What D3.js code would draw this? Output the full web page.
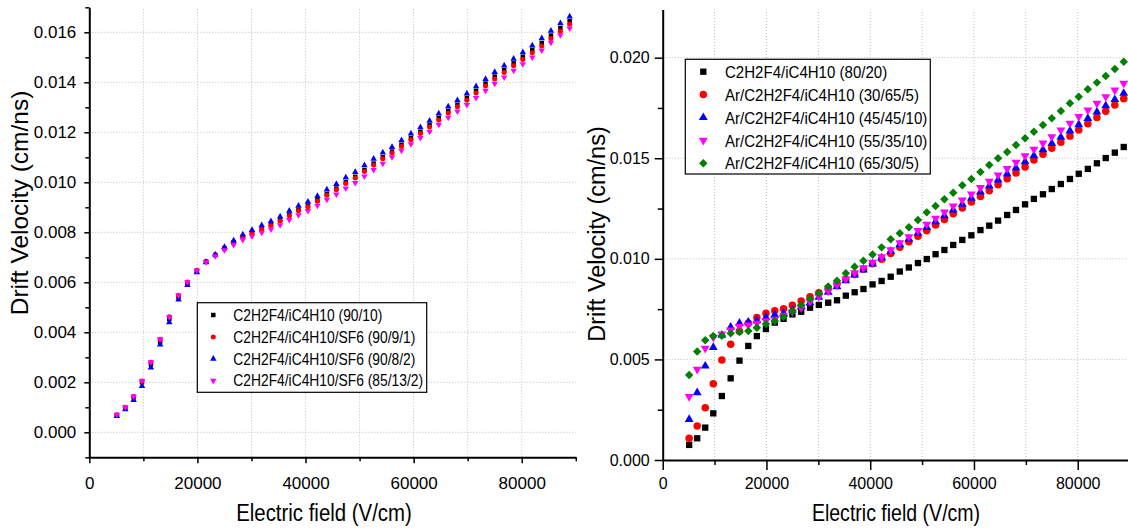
<!DOCTYPE html>
<html>
<head>
<meta charset="utf-8">
<script src="https://cdn.jsdelivr.net/npm/d3@7"></script>
<style>
    body { margin: 0; background: #fff; }
    svg { display: block; font-family: "Liberation Sans", Arial, sans-serif; }
    .grid line { stroke: #bdbdbd; stroke-width: 1; stroke-dasharray: 1,2; }
    .axis path { stroke: #000; stroke-width: 2; }
    .axis line { stroke: #000; stroke-width: 1.5; }
    .axis text { fill: #000; }
</style>
</head>
<body>
<svg id="chart" width="1128" height="528"></svg>
<script>
// electric field (V/cm), same points in both panels
const field = [
    5100, 6650, 8200, 9750, 11400, 13100, 14800, 16500, 18150, 19900,
    21600, 23300, 25000, 26700, 28400, 30100, 31900, 33600, 35300, 37000,
    38700, 40450, 42200, 43950, 45700, 47450, 49200, 50900, 52600, 54300,
    56000, 57750, 59500, 61250, 62950, 64650, 66400, 68100, 69850, 71550,
    73300, 75000, 76750, 78500, 80200, 81950, 83700, 85400, 87150, 88870
];

// left panel, drift velocity (cm/ns)
const leftNames = [
    "C2H2F4/iC4H10 (90/10)",
    "C2H2F4/iC4H10/SF6 (90/9/1)",
    "C2H2F4/iC4H10/SF6 (90/8/2)",
    "C2H2F4/iC4H10/SF6 (85/13/2)"
];
const left90_10 = [
    0.00068, 0.00097, 0.00140, 0.00200, 0.00272, 0.00362, 0.00453, 0.00541, 0.00597, 0.00646,
    0.00682, 0.00709, 0.00736, 0.00760, 0.00782, 0.00798, 0.00815, 0.00830, 0.00848, 0.00870,
    0.00890, 0.00906, 0.00928, 0.00953, 0.00975, 0.01000, 0.01022, 0.01049, 0.01075, 0.01100,
    0.01123, 0.01150, 0.01177, 0.01202, 0.01228, 0.01257, 0.01285, 0.01310, 0.01337, 0.01366,
    0.01395, 0.01423, 0.01449, 0.01476, 0.01502, 0.01529, 0.01557, 0.01587, 0.01617, 0.01645
];
const left90_9_1 = [
    0.00070, 0.00100, 0.00143, 0.00205, 0.00280, 0.00372, 0.00462, 0.00548, 0.00601, 0.00648,
    0.00684, 0.00710, 0.00736, 0.00759, 0.00780, 0.00796, 0.00812, 0.00827, 0.00845, 0.00866,
    0.00886, 0.00902, 0.00924, 0.00948, 0.00970, 0.00995, 0.01017, 0.01043, 0.01069, 0.01094,
    0.01117, 0.01143, 0.01170, 0.01195, 0.01221, 0.01249, 0.01277, 0.01302, 0.01328, 0.01357,
    0.01385, 0.01413, 0.01439, 0.01466, 0.01491, 0.01518, 0.01545, 0.01575, 0.01604, 0.01632
];
const left90_8_2 = [
    0.00065, 0.00092, 0.00129, 0.00185, 0.00259, 0.00351, 0.00440, 0.00531, 0.00589, 0.00640,
    0.00680, 0.00711, 0.00741, 0.00767, 0.00791, 0.00809, 0.00828, 0.00844, 0.00863, 0.00886,
    0.00906, 0.00922, 0.00945, 0.00971, 0.00993, 0.01019, 0.01041, 0.01068, 0.01094, 0.01119,
    0.01141, 0.01168, 0.01195, 0.01220, 0.01246, 0.01275, 0.01303, 0.01328, 0.01355, 0.01384,
    0.01413, 0.01441, 0.01467, 0.01494, 0.01520, 0.01547, 0.01576, 0.01606, 0.01636, 0.01663
];
const left85_13_2 = [
    0.00071, 0.00101, 0.00144, 0.00206, 0.00281, 0.00373, 0.00461, 0.00548, 0.00601, 0.00647,
    0.00681, 0.00705, 0.00729, 0.00750, 0.00770, 0.00784, 0.00799, 0.00812, 0.00829, 0.00850,
    0.00869, 0.00886, 0.00907, 0.00931, 0.00952, 0.00976, 0.00998, 0.01024, 0.01050, 0.01075,
    0.01101, 0.01127, 0.01153, 0.01178, 0.01203, 0.01231, 0.01259, 0.01284, 0.01310, 0.01338,
    0.01367, 0.01395, 0.01420, 0.01447, 0.01473, 0.01500, 0.01528, 0.01559, 0.01589, 0.01616
];

// right panel, drift velocity (cm/ns)
const rightNames = [
    "C2H2F4/iC4H10 (80/20)",
    "Ar/C2H2F4/iC4H10 (30/65/5)",
    "Ar/C2H2F4/iC4H10 (45/45/10)",
    "Ar/C2H2F4/iC4H10 (55/35/10)",
    "Ar/C2H2F4/iC4H10 (65/30/5)"
];
const right80_20 = [
    0.00075, 0.00108, 0.00161, 0.00232, 0.00318, 0.00406, 0.00494, 0.00567, 0.00616, 0.00651,
    0.00683, 0.00702, 0.00724, 0.00737, 0.00757, 0.00771, 0.00782, 0.00794, 0.00817, 0.00834,
    0.00850, 0.00873, 0.00890, 0.00911, 0.00937, 0.00957, 0.00979, 0.00999, 0.01023, 0.01044,
    0.01069, 0.01094, 0.01117, 0.01143, 0.01165, 0.01190, 0.01218, 0.01243, 0.01271, 0.01298,
    0.01321, 0.01347, 0.01372, 0.01397, 0.01423, 0.01447, 0.01475, 0.01501, 0.01528, 0.01556
];
const right30_65_5 = [
    0.00108, 0.00169, 0.00260, 0.00379, 0.00497, 0.00575, 0.00640, 0.00680, 0.00709, 0.00729,
    0.00742, 0.00752, 0.00769, 0.00790, 0.00812, 0.00832, 0.00852, 0.00875, 0.00898, 0.00922,
    0.00948, 0.00975, 0.00998, 0.01027, 0.01058, 0.01085, 0.01112, 0.01140, 0.01168, 0.01196,
    0.01224, 0.01253, 0.01282, 0.01310, 0.01339, 0.01368, 0.01398, 0.01427, 0.01457, 0.01491,
    0.01520, 0.01550, 0.01580, 0.01610, 0.01641, 0.01672, 0.01703, 0.01734, 0.01765, 0.01796
];
const right45_45_10 = [
    0.00202, 0.00335, 0.00467, 0.00560, 0.00621, 0.00660, 0.00680, 0.00686, 0.00692, 0.00709,
    0.00721, 0.00729, 0.00746, 0.00762, 0.00782, 0.00809, 0.00834, 0.00862, 0.00891, 0.00920,
    0.00945, 0.00975, 0.01005, 0.01037, 0.01070, 0.01098, 0.01127, 0.01156, 0.01185, 0.01214,
    0.01243, 0.01272, 0.01302, 0.01332, 0.01362, 0.01392, 0.01422, 0.01452, 0.01483, 0.01513,
    0.01543, 0.01574, 0.01605, 0.01636, 0.01667, 0.01698, 0.01730, 0.01761, 0.01792, 0.01823
];
const right55_35_10 = [
    0.00315, 0.00451, 0.00555, 0.00610, 0.00626, 0.00646, 0.00663, 0.00671, 0.00680, 0.00692,
    0.00699, 0.00719, 0.00737, 0.00757, 0.00787, 0.00812, 0.00840, 0.00870, 0.00900, 0.00930,
    0.00955, 0.00983, 0.01010, 0.01045, 0.01080, 0.01110, 0.01140, 0.01172, 0.01202, 0.01232,
    0.01262, 0.01292, 0.01322, 0.01354, 0.01385, 0.01417, 0.01449, 0.01480, 0.01512, 0.01545,
    0.01575, 0.01607, 0.01640, 0.01674, 0.01707, 0.01740, 0.01773, 0.01806, 0.01839, 0.01873
];
const right65_30_5 = [
    0.00423, 0.00539, 0.00595, 0.00616, 0.00618, 0.00630, 0.00636, 0.00641, 0.00658, 0.00676,
    0.00691, 0.00712, 0.00741, 0.00771, 0.00802, 0.00829, 0.00862, 0.00891, 0.00928, 0.00961,
    0.00990, 0.01022, 0.01057, 0.01097, 0.01127, 0.01157, 0.01193, 0.01231, 0.01263, 0.01296,
    0.01329, 0.01366, 0.01397, 0.01432, 0.01467, 0.01500, 0.01531, 0.01566, 0.01599, 0.01632,
    0.01665, 0.01699, 0.01735, 0.01773, 0.01806, 0.01843, 0.01876, 0.01909, 0.01944, 0.01980
];

// ticks
const xMajorTicks = [0, 20000, 40000, 60000, 80000];
const xMinorTicks = [10000, 30000, 50000, 70000, 90000];
const xGridTicks = [10000, 20000, 30000, 40000, 50000, 60000, 70000, 80000];
const leftYMajor = [0, 0.002, 0.004, 0.006, 0.008, 0.010, 0.012, 0.014, 0.016];
const leftYMinor = [-0.001, 0.001, 0.003, 0.005, 0.007, 0.009, 0.011, 0.013, 0.015, 0.017];
const rightYMajor = [0, 0.005, 0.010, 0.015, 0.020];
const rightYMinor = [0.0025, 0.0075, 0.0125, 0.0175];

const colors = ['#000000', '#ff0000', '#0000ff', '#ff00ff', '#008000'];
const shapes = ['square', 'circle', 'up', 'down', 'diamond'];

const svg = d3.select('#chart');

function markerPath(shape, size) {
    let type = d3.symbolSquare;
    if (shape === 'circle') type = d3.symbolCircle;
    if (shape === 'up' || shape === 'down') type = d3.symbolTriangle;
    return d3.symbol().type(type).size(size)();
}

function markerRotate(shape) {
    if (shape === 'down') return ' rotate(180)';
    if (shape === 'diamond') return ' rotate(45)';
    return '';
}

function drawPanel(p) {
    const x = d3.scaleLinear().domain(p.xDomain).range(p.xRange);
    const y = d3.scaleLinear().domain(p.yDomain).range(p.yRange);
    const g = svg.append('g');

    // dotted grid
    const grid = g.append('g').attr('class', 'grid');
    grid.selectAll('line.h')
        .data(p.yMajor.filter(function(v) { return v !== p.yDomain[0]; }))
        .enter().append('line')
        .attr('class', 'h')
        .attr('x1', p.xRange[0]).attr('x2', p.xRange[1])
        .attr('y1', function(d) { return y(d); })
        .attr('y2', function(d) { return y(d); });
    grid.selectAll('line.v').data(xGridTicks)
        .enter().append('line')
        .attr('class', 'v')
        .attr('y1', p.yRange[0]).attr('y2', p.yRange[1])
        .attr('x1', function(d) { return x(d); })
        .attr('x2', function(d) { return x(d); });

    // points
    p.series.forEach(function(s) {
        const path = markerPath(s.shape, s.size);
        g.append('g').selectAll('path')
            .data(d3.zip(field, s.values))
            .enter().append('path')
            .attr('d', path)
            .attr('fill', s.color)
            .attr('transform', function(d) {
                return 'translate(' + x(d[0]) + ',' + y(d[1]) + ')' + markerRotate(s.shape);
            });
    });

    // axes
    const axisY0 = y(p.yDomain[0]);
    const xAxisG = g.append('g').attr('class', 'axis')
        .attr('transform', 'translate(0,' + axisY0 + ')')
        .style('font-size', p.tickFont + 'px');
    xAxisG.call(d3.axisBottom(x).tickValues(xMajorTicks)
        .tickSize(p.xTick[0]).tickSizeOuter(0).tickPadding(p.xPad)
        .tickFormat(d3.format('d')));
    xAxisG.append('g')
        .call(d3.axisBottom(x).tickValues(xMinorTicks)
            .tickSize(p.xTick[1]).tickFormat(''))
        .select('.domain').remove();

    const yAxisG = g.append('g').attr('class', 'axis')
        .attr('transform', 'translate(' + p.xRange[0] + ',0)')
        .style('font-size', p.tickFont + 'px');
    yAxisG.call(d3.axisLeft(y).tickValues(p.yMajor)
        .tickSize(p.yTick[0]).tickSizeOuter(0).tickPadding(p.yPad)
        .tickFormat(d3.format('.3f')));
    yAxisG.append('g')
        .call(d3.axisLeft(y).tickValues(p.yMinor)
            .tickSize(p.yTick[1]).tickFormat(''))
        .select('.domain').remove();
    g.selectAll('.axis text').attr('font-family', null);

    // titles
    g.append('text')
        .attr('text-anchor', 'middle')
        .attr('transform', 'translate(' + p.xTitle[0] + ',' + p.xTitle[1] + ') scale(0.85,1)')
        .style('font-size', p.xTitleFont + 'px')
        .text('Electric field (V/cm)');
    g.append('text')
        .attr('text-anchor', 'middle')
        .attr('transform', 'translate(' + p.yTitle[0] + ',' + p.yTitle[1] + ') rotate(-90)')
        .style('font-size', p.yTitleFont + 'px')
        .text('Drift Velocity (cm/ns)');

    // legend
    const L = p.legend;
    const lg = g.append('g');
    lg.append('rect')
        .attr('x', L.box[0]).attr('y', L.box[1])
        .attr('width', L.box[2]).attr('height', L.box[3])
        .attr('fill', '#fff').attr('stroke', '#000').attr('stroke-width', 1.2);
    const row = lg.selectAll('.row').data(p.series)
        .enter().append('g')
        .attr('class', 'row')
        .attr('transform', function(d, i) { return 'translate(0,' + (L.top + i * L.step) + ')'; });
    row.append('path')
        .attr('d', function(d) { return markerPath(d.shape, d.size); })
        .attr('fill', function(d) { return d.color; })
        .attr('transform', function(d) { return 'translate(' + L.symX + ',0)' + markerRotate(d.shape); });
    row.append('text')
        .attr('transform', 'translate(' + L.textX + ',' + (L.font * 0.36) + ') scale(' + L.sx + ',1)')
        .style('font-size', L.font + 'px')
        .text(function(d) { return d.name; });
}

const leftValues = [left90_10, left90_9_1, left90_8_2, left85_13_2];
const rightValues = [right80_20, right30_65_5, right45_45_10, right55_35_10, right65_30_5];
const leftSizes = [20, 20, 18, 18];
const rightSizes = [40, 44, 34, 34, 36];

drawPanel({
    xDomain: [0, 90000], xRange: [89.3, 575.8],
    yDomain: [-0.001, 0.017], yRange: [457.3, 7.3],
    yMajor: leftYMajor, yMinor: leftYMinor,
    xTick: [6, 4], yTick: [5, 4], xPad: 14, yPad: 8,
    tickFont: 17,
    xTitle: [324, 521], xTitleFont: 24,
    yTitle: [28, 203], yTitleFont: 24.5,
    series: leftNames.map(function(n, i) {
        return { name: n, values: leftValues[i], color: colors[i], shape: shapes[i], size: leftSizes[i] };
    }),
    legend: { box: [197.3, 302.7, 229.4, 89.6], top: 315, step: 21.9, symX: 213.3, textX: 233.3, font: 16, sx: 0.865 }
});

drawPanel({
    xDomain: [0, 90000], xRange: [662.7, 1129.6],
    yDomain: [0, 0.0224], yRange: [460, 9.4],
    yMajor: rightYMajor, yMinor: rightYMinor,
    xTick: [10, 5], yTick: [8, 5], xPad: 8, yPad: 5,
    tickFont: 16,
    xTitle: [896, 521], xTitleFont: 23,
    yTitle: [605, 234], yTitleFont: 23.5,
    series: rightNames.map(function(n, i) {
        return { name: n, values: rightValues[i], color: colors[i], shape: shapes[i], size: rightSizes[i] };
    }),
    legend: { box: [685.3, 59.3, 245, 114.7], top: 71.7, step: 22.9, symX: 703.3, textX: 725, font: 17, sx: 0.885 }
});
</script>
</body>
</html>
